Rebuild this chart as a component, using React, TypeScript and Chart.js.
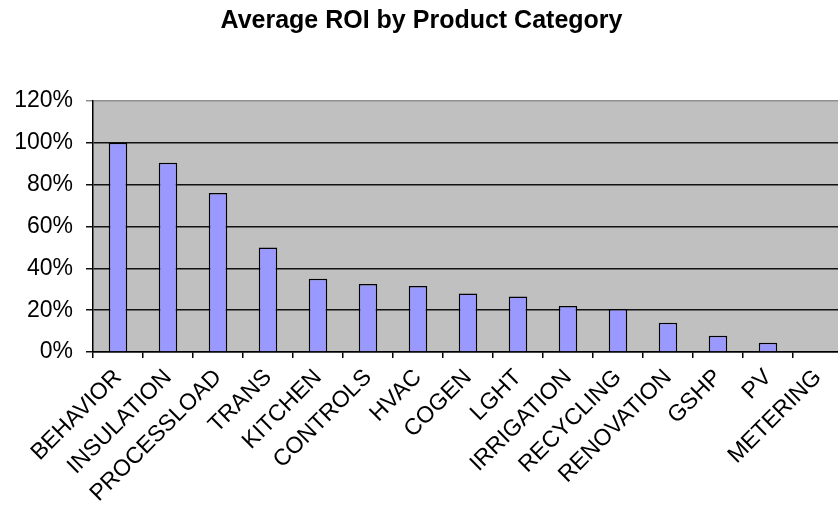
import React, { useEffect, useRef } from "react";
import { Chart, registerables } from "chart.js";

Chart.register(...registerables);

const chartTitle = "Average ROI by Product Category";
const categories = [
  "BEHAVIOR",
  "INSULATION",
  "PROCESSLOAD",
  "TRANS",
  "KITCHEN",
  "CONTROLS",
  "HVAC",
  "COGEN",
  "LGHT",
  "IRRIGATION",
  "RECYCLING",
  "RENOVATION",
  "GSHP",
  "PV",
  "METERING",
];
const roiValues = [1.0, 0.905, 0.76, 0.5, 0.35, 0.325, 0.315, 0.28, 0.265, 0.22, 0.205, 0.14, 0.078, 0.044, 0];
const yMin = 0;
const yMax = 1.2;
const yStep = 0.2;

const plotBg = {
  id: "plotBg",
  beforeDraw(chart: any) {
    const { ctx, chartArea } = chart;
    if (!chartArea) return;
    ctx.save();
    ctx.fillStyle = "#C0C0C0";
    ctx.fillRect(chartArea.left, chartArea.top, chartArea.right - chartArea.left, chartArea.bottom - chartArea.top);
    ctx.restore();
  },
};

export default function App() {
  const ref = useRef<HTMLCanvasElement | null>(null);
  useEffect(() => {
    if (!ref.current) return;
    const chart = new Chart(ref.current, {
      type: "bar",
      data: {
        labels: categories,
        datasets: [
          {
            data: roiValues,
            backgroundColor: "#9999FF",
            borderColor: "#000000",
            borderWidth: 1.5,
            categoryPercentage: 1,
            barPercentage: 0.37,
          },
        ],
      },
      options: {
        animation: false,
        responsive: false,
        maintainAspectRatio: false,
        layout: { padding: { left: 0, right: 3, top: 0, bottom: 0 } },
        plugins: {
          legend: { display: false },
          tooltip: { enabled: false },
          title: {
            display: true,
            text: chartTitle,
            color: "#000",
            font: { family: "'Liberation Sans', Arial, sans-serif", size: 25, weight: "bold" },
            padding: { top: 6, bottom: 65 },
          },
        },
        scales: {
          x: {
            grid: {
              display: true,
              drawOnChartArea: false,
              drawTicks: true,
              tickLength: 6,
              color: "#000",
              lineWidth: 1.5,
              offset: true,
            },
            border: { display: true, color: "#000", width: 1.5 },
            ticks: {
              autoSkip: false,
              maxRotation: 45,
              minRotation: 45,
              color: "#000",
              padding: 6,
              font: { family: "'Liberation Sans', Arial, sans-serif", size: 23 },
            },
            afterFit(scale: any) {
              scale.height = 161;
            },
          },
          y: {
            min: yMin,
            max: yMax,
            grid: {
              color: (c: any) => (c.tick && Math.abs(c.tick.value - yMax) < 1e-6 ? "#909090" : "#111"),
              lineWidth: 1.5,
              drawTicks: true,
              tickLength: 7,
            },
            border: { display: true, color: "#000", width: 1.5 },
            ticks: {
              stepSize: yStep,
              color: "#000",
              padding: 13,
              font: { family: "'Liberation Sans', Arial, sans-serif", size: 23 },
              callback: (v: any) => `${Math.round(Number(v) * 100)}%`,
            },
            afterFit(scale: any) {
              scale.width = 93;
            },
          },
        },
      },
      plugins: [plotBg],
    });
    return () => chart.destroy();
  }, []);
  return (
    <div style={{ position: "fixed", left: 0, top: 0, width: 838, height: 513, overflow: "hidden", background: "#fff" }}>
      <canvas ref={ref} width={846} height={513} style={{ display: "block", width: 846, height: 513 }} />
    </div>
  );
}
